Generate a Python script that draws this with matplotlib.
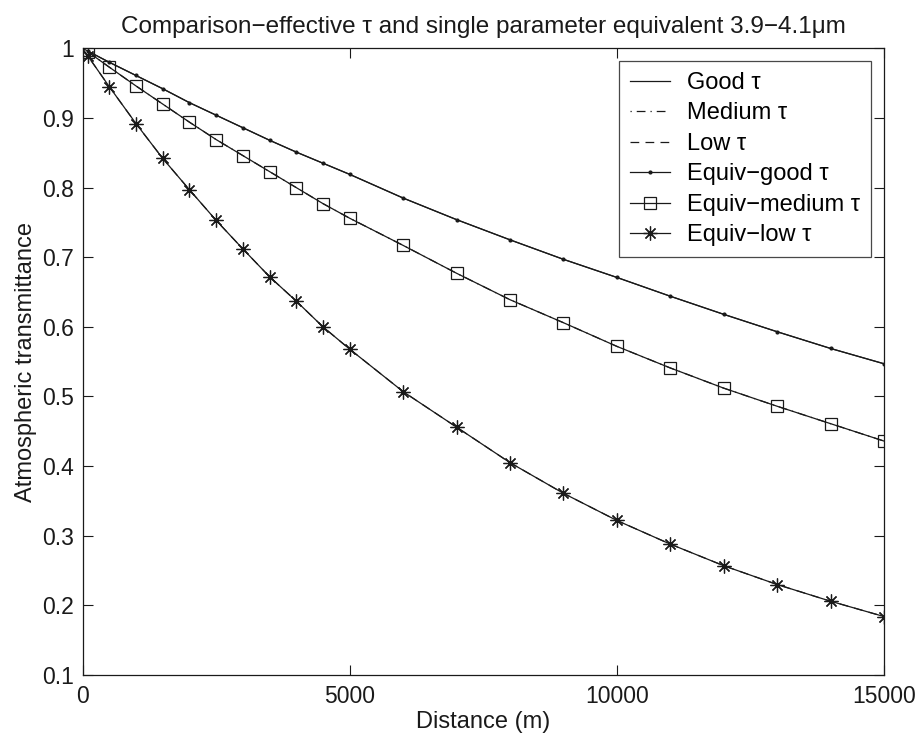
import numpy as np
import matplotlib
matplotlib.use("Agg")
from matplotlib import pyplot as plt

plt.rcParams['font.family'] = ['Liberation Sans', 'DejaVu Sans']
plt.rcParams['mathtext.fontset'] = 'dejavusans'

# distances (m) where the equivalent curves are marked
dist = [100, 500, 1000, 1500, 2000, 2500, 3000, 3500, 4000, 4500, 5000,
        6000, 7000, 8000, 9000, 10000, 11000, 12000, 13000, 14000, 15000]

# effective-tau curves (start at 0 m, transmittance 1)
dist_eff = [0] + dist

good_eff = [1.0, 0.996, 0.980, 0.961, 0.942, 0.922, 0.904, 0.886, 0.868, 0.851, 0.835, 0.819,
            0.785, 0.754, 0.725, 0.697, 0.671, 0.644, 0.618, 0.593, 0.569, 0.547]
medium_eff = [1.0, 0.995, 0.973, 0.946, 0.920, 0.894, 0.869, 0.846, 0.823, 0.800, 0.777, 0.756,
              0.717, 0.677, 0.639, 0.606, 0.572, 0.541, 0.512, 0.486, 0.461, 0.436]
low_eff = [1.0, 0.989, 0.945, 0.892, 0.842, 0.797, 0.753, 0.712, 0.672, 0.637, 0.600, 0.568,
           0.507, 0.456, 0.405, 0.361, 0.322, 0.288, 0.257, 0.230, 0.206, 0.184]

# single parameter equivalents
good_eq = [0.996, 0.980, 0.961, 0.942, 0.922, 0.904, 0.886, 0.868, 0.851, 0.835, 0.819,
           0.785, 0.754, 0.725, 0.697, 0.671, 0.644, 0.618, 0.593, 0.569, 0.547]
medium_eq = [0.995, 0.973, 0.946, 0.920, 0.894, 0.869, 0.846, 0.823, 0.800, 0.777, 0.756,
             0.717, 0.677, 0.639, 0.606, 0.572, 0.541, 0.512, 0.486, 0.461, 0.436]
low_eq = [0.989, 0.945, 0.892, 0.842, 0.797, 0.753, 0.712, 0.672, 0.637, 0.600, 0.568,
          0.507, 0.456, 0.405, 0.361, 0.322, 0.288, 0.257, 0.230, 0.206, 0.184]

labels = ['Good τ', 'Medium τ', 'Low τ', 'Equiv−good τ', 'Equiv−medium τ', 'Equiv−low τ']

fig = plt.figure(figsize=(9.21, 7.40), dpi=100)
ax = fig.add_axes([0.0896, 0.0878, 0.8702, 0.8469])

lw = 0.9
c = '#1a1a1a'
ax.plot(dist_eff, good_eff, '-', color=c, lw=lw, label=labels[0])
ax.plot(dist_eff, medium_eff, color=c, lw=lw, dashes=(1, 4, 7, 4), label=labels[1])
ax.plot(dist_eff, low_eff, color=c, lw=lw, dashes=(7, 5), label=labels[2])
ax.plot(dist, good_eq, '-', color=c, lw=lw, marker='.', ms=4, label=labels[3])
ax.plot(dist, medium_eq, '-', color=c, lw=lw, marker='s', ms=9, mfc='none',
        mec=c, mew=0.9, label=labels[4])
ax.plot(dist, low_eq, '-', color=c, lw=lw, marker=(8, 2, 0), ms=10, mec=c,
        mew=0.9, label=labels[5])

ax.set_xlim(0, 15000)
ax.set_ylim(0.1, 1.0)
ax.set_xticks([0, 5000, 10000, 15000])
ax.set_yticks(np.arange(0.1, 1.01, 0.1))
ax.set_yticklabels(['0.1', '0.2', '0.3', '0.4', '0.5', '0.6', '0.7', '0.8', '0.9', '1'])
ax.tick_params(direction='in', length=7, width=0.8, top=True, right=True,
               labelsize=16.5, colors=c)
ax.tick_params(axis='x', pad=7)
ax.tick_params(axis='y', pad=6)
for s in ax.spines.values():
    s.set_linewidth(0.9)
    s.set_color(c)

ax.set_xlabel('Distance (m)', fontsize=17, color=c, labelpad=2)
ax.set_ylabel('Atmospheric transmittance', fontsize=17, color=c, labelpad=4)
ax.set_title('Comparison−effective τ and single parameter equivalent 3.9−4.1μm',
             fontsize=17.5, color=c, pad=11)

leg = ax.legend(loc='upper right', fontsize=17, frameon=True, fancybox=False,
                edgecolor=c, handlelength=1.7, borderaxespad=0.55, labelspacing=0.36,
                borderpad=0.45, handletextpad=0.75)
leg.get_frame().set_linewidth(0.9)

fig.savefig('out.png', dpi=100, facecolor='white')
